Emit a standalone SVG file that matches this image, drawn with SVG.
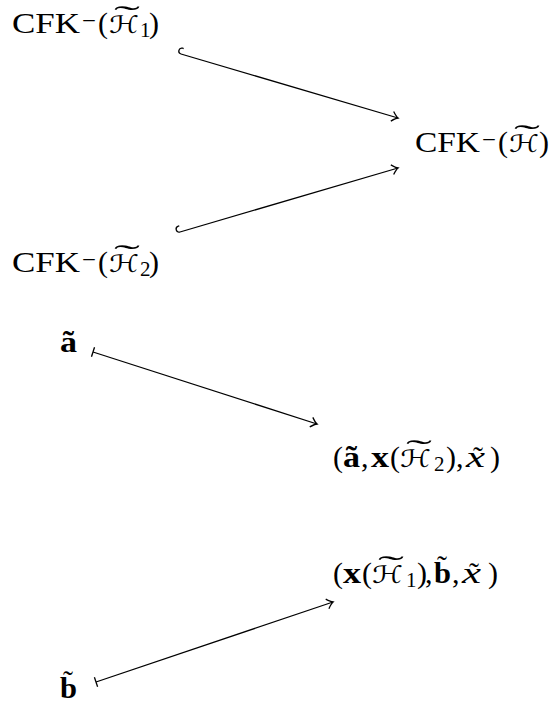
<svg xmlns="http://www.w3.org/2000/svg" width="551" height="709" viewBox="0 0 551 709">
<style>
.t{font-family:"Liberation Serif",serif;font-size:30px;fill:#000}
.s{font-family:"Liberation Serif",serif;font-size:21px;fill:#000}
.m{font-family:"Liberation Serif",serif;font-size:22px;fill:#000}
.h{font-family:"DejaVu Serif","DejaVu Sans",serif;font-size:24px;fill:#000}
.b{font-weight:bold}
.i{font-style:italic}
.tl{font-family:"Liberation Serif",serif;font-size:30px;fill:#000}
.e{fill:none;stroke:#000;stroke-width:1.3}
</style>
<defs>
<marker id="to" markerUnits="userSpaceOnUse" orient="auto" overflow="visible" markerWidth="1" markerHeight="1">
<path d="M -6 -5 Q -2 -0.8 0 0 Q -2 0.8 -6 5" fill="none" stroke="#000" stroke-width="1.3"/>
</marker>
<marker id="hook" markerUnits="userSpaceOnUse" orient="auto" overflow="visible" markerWidth="1" markerHeight="1">
<path d="M 0 0 A 3 3 0 0 1 0 -6 L 1 -6" fill="none" stroke="#000" stroke-width="1.3"/>
</marker>
<marker id="bar" markerUnits="userSpaceOnUse" orient="auto" overflow="visible" markerWidth="1" markerHeight="1">
<path d="M 0 -5 L 0 5" fill="none" stroke="#000" stroke-width="1.3"/>
</marker>
</defs>

<g id="n1">
<text class="t" x="12" y="33" textLength="68" lengthAdjust="spacingAndGlyphs">CFK</text>
<text class="m" x="82" y="28" textLength="14" lengthAdjust="spacingAndGlyphs">−</text>
<text class="t" x="98" y="33">(</text>
<text class="h" x="109" y="33" textLength="30" lengthAdjust="spacingAndGlyphs">ℋ</text>
<text class="tl" transform="translate(127,26) scale(2.6,1)" text-anchor="middle">˜</text>
<text class="s" x="140" y="37">1</text>
<text class="t" x="149" y="33">)</text>
</g>

<g id="n2">
<text class="t" x="415" y="152" textLength="65" lengthAdjust="spacingAndGlyphs">CFK</text>
<text class="m" x="482" y="147" textLength="14" lengthAdjust="spacingAndGlyphs">−</text>
<text class="t" x="498" y="152">(</text>
<text class="h" x="509" y="152" textLength="30" lengthAdjust="spacingAndGlyphs">ℋ</text>
<text class="tl" transform="translate(527,145) scale(2.6,1)" text-anchor="middle">˜</text>
<text class="t" x="539" y="152">)</text>
</g>

<g id="n3">
<text class="t" x="12" y="272" textLength="68" lengthAdjust="spacingAndGlyphs">CFK</text>
<text class="m" x="82" y="267" textLength="14" lengthAdjust="spacingAndGlyphs">−</text>
<text class="t" x="98" y="272">(</text>
<text class="h" x="109" y="272" textLength="30" lengthAdjust="spacingAndGlyphs">ℋ</text>
<text class="tl" transform="translate(127,265) scale(2.6,1)" text-anchor="middle">˜</text>
<text class="s" x="140" y="276">2</text>
<text class="t" x="149" y="272">)</text>
</g>

<g id="na">
<text class="t b" x="60" y="352" textLength="17" lengthAdjust="spacingAndGlyphs">ã</text>
</g>

<g id="nt1">
<text class="t" x="333" y="467">(</text>
<text class="t b" x="343" y="467" textLength="17" lengthAdjust="spacingAndGlyphs">ã</text>
<text class="t" x="361" y="467">,</text>
<text class="t b" x="371" y="467" textLength="18" lengthAdjust="spacingAndGlyphs">x</text>
<text class="t" x="390" y="467">(</text>
<text class="h" x="400" y="467" textLength="31" lengthAdjust="spacingAndGlyphs">ℋ</text>
<text class="tl" transform="translate(419,460) scale(2.6,1)" text-anchor="middle">˜</text>
<text class="s" x="434" y="471">2</text>
<text class="t" x="446" y="467">)</text>
<text class="t" x="456" y="467">,</text>
<text class="t i" x="466" y="467" textLength="19" lengthAdjust="spacingAndGlyphs">x</text>
<text class="tl" x="478" y="467" text-anchor="middle">˜</text>
<text class="t" x="490" y="467">)</text>
</g>

<g id="nb">
<text class="t b" x="60" y="698" textLength="17" lengthAdjust="spacingAndGlyphs">b</text>
<text class="tl" x="68" y="691" text-anchor="middle">˜</text>
</g>

<g id="nt2">
<text class="t" x="333" y="583">(</text>
<text class="t b" x="343" y="583" textLength="18" lengthAdjust="spacingAndGlyphs">x</text>
<text class="t" x="362" y="583">(</text>
<text class="h" x="372" y="583" textLength="31" lengthAdjust="spacingAndGlyphs">ℋ</text>
<text class="tl" transform="translate(391,576) scale(2.6,1)" text-anchor="middle">˜</text>
<text class="s" x="406" y="587">1</text>
<text class="t" x="417" y="583">)</text>
<text class="t" x="425" y="583">,</text>
<text class="t b" x="434" y="583" textLength="17" lengthAdjust="spacingAndGlyphs">b</text>
<text class="tl" x="442" y="576" text-anchor="middle">˜</text>
<text class="t" x="452" y="583">,</text>
<text class="t i" x="462" y="583" textLength="19" lengthAdjust="spacingAndGlyphs">x</text>
<text class="tl" x="474" y="583" text-anchor="middle">˜</text>
<text class="t" x="488" y="583">)</text>
</g>

<g id="edges">
<path class="e" d="M 181 54 L 398 118" marker-start="url(#hook)" marker-end="url(#to)"/>
<path class="e" d="M 180 232 L 398 168" marker-start="url(#hook)" marker-end="url(#to)"/>
<path class="e" d="M 93 352 L 317 424" marker-start="url(#bar)" marker-end="url(#to)"/>
<path class="e" d="M 96 682 L 333 602" marker-start="url(#bar)" marker-end="url(#to)"/>
</g>
</svg>
